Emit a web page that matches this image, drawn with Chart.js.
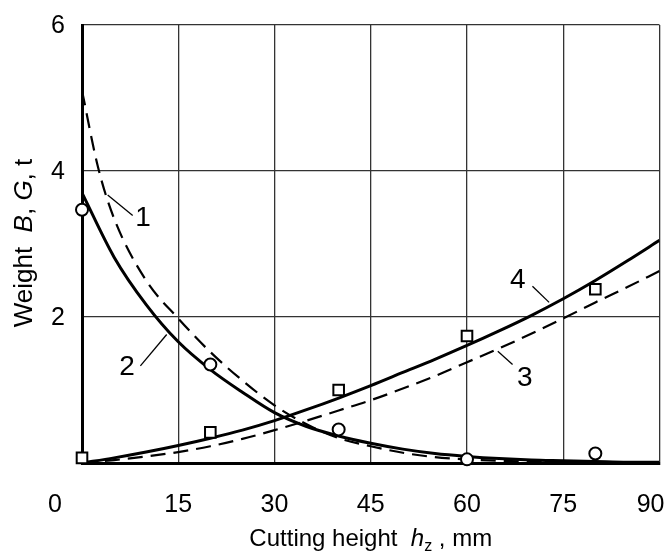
<!DOCTYPE html>
<html><head><meta charset="utf-8">
<style>html,body{margin:0;padding:0;background:#fff}#wrap{width:669px;height:555px}</style>
<script src="https://cdn.jsdelivr.net/npm/chart.js@4"></script>
</head><body><div id="wrap"><canvas id="c" width="669" height="555"></canvas></div>
<script>
// ---- data ----
const xTicks = [0, 15, 30, 45, 60, 75, 90];
const yTicks = [2, 4, 6];
const sampleH = [0, 20, 40, 60, 80];
const circlesB = [3.47, 1.35, 0.46, 0.05, 0.13];
const squaresG = [0.07, 0.42, 1.00, 1.74, 2.38];

const curve1H = [0, 2.5, 5, 10, 15, 20, 25, 30, 35, 40, 45, 50, 55, 60, 65, 70, 75, 80, 85, 90];
const curve1 = [5.10, 4.05, 3.35, 2.50, 1.98, 1.52, 1.13, 0.79, 0.53, 0.34, 0.23, 0.14, 0.08, 0.05, 0.03, 0.02, 0.01, 0.01, 0.00, 0.00];
const curveH = [0, 5, 10, 15, 20, 25, 30, 35, 40, 45, 50, 55, 60, 65, 70, 75, 80, 85, 90];
const curve2 = [3.70, 2.82, 2.17, 1.66, 1.28, 0.97, 0.69, 0.50, 0.37, 0.27, 0.19, 0.13, 0.09, 0.06, 0.04, 0.03, 0.02, 0.01, 0.01];
const curve3 = [0, 0.04, 0.09, 0.15, 0.23, 0.33, 0.45, 0.58, 0.72, 0.86, 1.02, 1.19, 1.38, 1.57, 1.77, 1.98, 2.20, 2.41, 2.63];
const curve4 = [0, 0.07, 0.15, 0.24, 0.34, 0.45, 0.58, 0.73, 0.89, 1.06, 1.24, 1.42, 1.61, 1.81, 2.02, 2.25, 2.50, 2.77, 3.05];

// curve labels: text, label position, leader line start/end (data coords)
const curveLabels = [
  {t: '1', h: 9.5, v: 3.36, a: [4.0, 3.67], b: [7.9, 3.39]},
  {t: '2', h: 7.0, v: 1.33, a: [9.1, 1.33], b: [13.2, 1.76]},
  {t: '3', h: 69.0, v: 1.18, a: [64.8, 1.53], b: [67.1, 1.35]},
  {t: '4', h: 67.9, v: 2.51, a: [70.2, 2.42], b: [72.8, 2.20]}
];

const FONT = "'Liberation Sans', Arial, sans-serif";
const pts = (xs, ys) => xs.map((x, i) => ({x: x, y: ys[i]}));

const textPlugin = {
  id: 'texts',
  afterDatasetsDraw(chart) {
    const c = chart.ctx, xs = chart.scales.x, ys = chart.scales.y;
    c.save();
    c.fillStyle = '#000'; c.strokeStyle = '#000';
    c.lineWidth = 1.3;
    c.font = '28px ' + FONT;
    c.textAlign = 'center'; c.textBaseline = 'middle';
    curveLabels.forEach(l => {
      c.beginPath();
      c.moveTo(xs.getPixelForValue(l.a[0]), ys.getPixelForValue(l.a[1]));
      c.lineTo(xs.getPixelForValue(l.b[0]), ys.getPixelForValue(l.b[1]));
      c.stroke();
      c.fillText(l.t, xs.getPixelForValue(l.h), ys.getPixelForValue(l.v) + 1);
    });
    c.restore();
  },
  afterDraw(chart) {
    const c = chart.ctx, xs = chart.scales.x, ys = chart.scales.y, ca = chart.chartArea;
    c.save();
    c.fillStyle = '#000';
    c.font = '25px ' + FONT;
    c.textAlign = 'right'; c.textBaseline = 'middle';
    yTicks.forEach(v => c.fillText(String(v), ca.left - 17, ys.getPixelForValue(v) + 1));
    c.textBaseline = 'middle';
    xTicks.forEach(v => {
      let px = xs.getPixelForValue(v);
      if (v === 0) { c.textAlign = 'center'; px = px - 27; }
      else if (v === xTicks[xTicks.length - 1]) { c.textAlign = 'right'; px = px + 5; }
      else { c.textAlign = 'center'; }
      c.fillText(String(v), px, ca.bottom + 42);
    });
    // x title: Cutting height  h_z , mm
    const base = ca.bottom + 83;
    const parts = [
      {s: 'Cutting height  ', f: '24px ' + FONT, dy: 0},
      {s: 'h', f: 'italic 24px ' + FONT, dy: 0},
      {s: 'z', f: '16px ' + FONT, dy: 5},
      {s: ' , mm', f: '24px ' + FONT, dy: 0}
    ];
    let w = 0;
    parts.forEach(p => { c.font = p.f; p.w = c.measureText(p.s).width; w += p.w; });
    let x = (ca.left + ca.right) / 2 - w / 2;
    c.textAlign = 'left'; c.textBaseline = 'alphabetic';
    parts.forEach(p => { c.font = p.f; c.fillText(p.s, x, base + p.dy); x += p.w; });
    // y title: Weight  B, G, t (rotated)
    const yparts = [
      {s: 'Weight  ', f: '26px ' + FONT},
      {s: 'B', f: 'italic 26px ' + FONT},
      {s: ', ', f: '26px ' + FONT},
      {s: 'G', f: 'italic 26px ' + FONT},
      {s: ', t', f: '26px ' + FONT}
    ];
    let yw = 0;
    yparts.forEach(p => { c.font = p.f; p.w = c.measureText(p.s).width; yw += p.w; });
    c.translate(32, (ca.top + ca.bottom) / 2 - 1);
    c.rotate(-Math.PI / 2);
    let yx = -yw / 2;
    yparts.forEach(p => { c.font = p.f; c.fillText(p.s, yx, 0); yx += p.w; });
    c.restore();
  }
};

new Chart(document.getElementById('c'), {
  type: 'scatter',
  data: {
    datasets: [
      {label: 'B data', data: pts(sampleH, circlesB), pointStyle: 'circle', pointRadius: 6,
       borderColor: '#000', backgroundColor: '#fff', borderWidth: 2, showLine: false, clip: false},
      {label: 'G data', data: pts(sampleH, squaresG), pointStyle: 'rect', pointRadius: 7.5,
       borderColor: '#000', backgroundColor: '#fff', borderWidth: 2, showLine: false, clip: false},
      {label: '1', data: pts(curve1H, curve1), showLine: true, pointRadius: 0, borderColor: '#000',
       borderWidth: 2.2, borderDash: [15, 8], cubicInterpolationMode: 'monotone'},
      {label: '2', data: pts(curveH, curve2), showLine: true, pointRadius: 0, borderColor: '#000',
       borderWidth: 3, cubicInterpolationMode: 'monotone'},
      {label: '3', data: pts(curveH, curve3), showLine: true, pointRadius: 0, borderColor: '#000',
       borderWidth: 2.2, borderDash: [15, 8], cubicInterpolationMode: 'monotone'},
      {label: '4', data: pts(curveH, curve4), showLine: true, pointRadius: 0, borderColor: '#000',
       borderWidth: 3, cubicInterpolationMode: 'monotone'}
    ]
  },
  options: {
    responsive: false,
    animation: false,
    events: [],
    layout: {padding: {left: 82, right: 6, top: 25, bottom: 92}},
    plugins: {legend: {display: false}, tooltip: {enabled: false}},
    scales: {
      x: {type: 'linear', min: 0, max: 90,
          ticks: {display: false, stepSize: 15},
          grid: {color: '#333', lineWidth: 1.3, drawTicks: false},
          border: {display: true, color: '#000', width: 3}},
      y: {type: 'linear', min: 0, max: 6,
          ticks: {display: false, stepSize: 2},
          grid: {color: '#333', lineWidth: 1.3, drawTicks: false},
          border: {display: true, color: '#000', width: 3}}
    }
  },
  plugins: [textPlugin]
});
</script>
</body></html>
